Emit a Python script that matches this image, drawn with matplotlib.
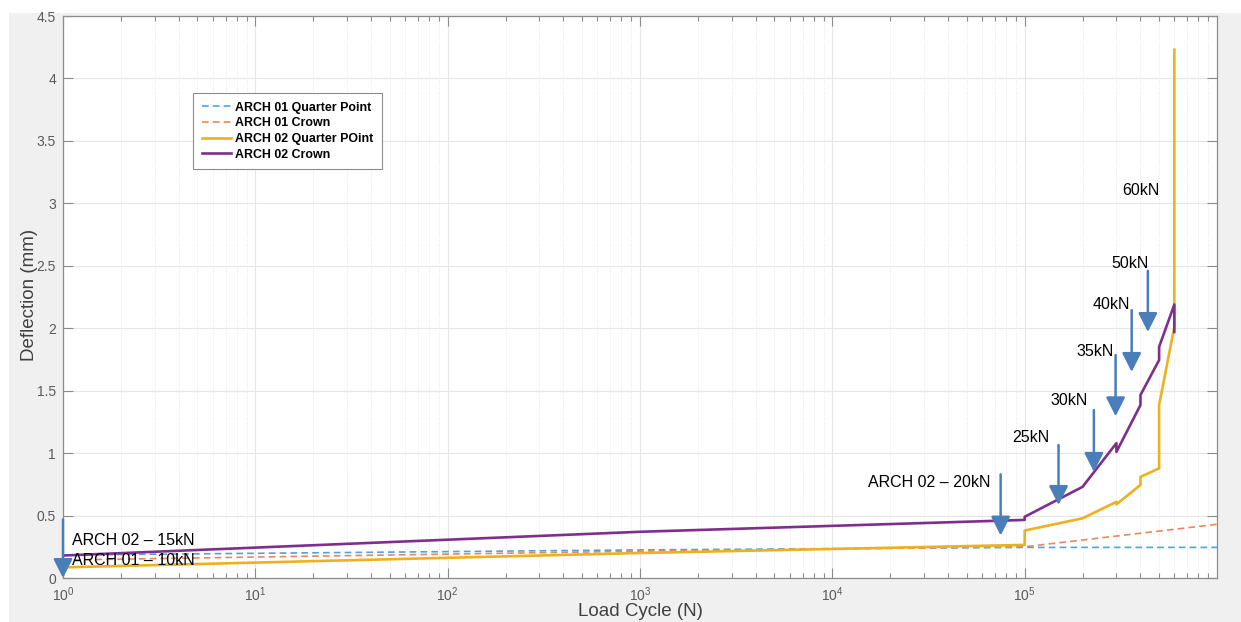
import matplotlib
matplotlib.use("Agg")
import matplotlib.pyplot as plt
from matplotlib.patches import Rectangle
from matplotlib.ticker import FixedLocator, LogLocator, NullFormatter, LogFormatterSciNotation

plt.rcParams['font.family'] = ['Liberation Sans', 'DejaVu Sans']
plt.rcParams['mathtext.fontset'] = 'custom'
plt.rcParams['mathtext.rm'] = 'Liberation Sans'
plt.rcParams['mathtext.it'] = 'Liberation Sans'

# ---- measured deflection series ----
arch01_qp_cycles = [1, 1e3, 1e5, 1e6]
arch01_qp_defl = [0.184, 0.225, 0.245, 0.245]

arch01_crown_cycles = [1, 1e3, 1e5, 1e6]
arch01_crown_defl = [0.144, 0.215, 0.25, 0.43]

arch02_qp_cycles = [1, 1e3, 1e5, 1e5, 2e5, 3e5, 3e5, 4e5, 4e5, 5e5, 5e5, 6e5, 6e5]
arch02_qp_defl = [0.085, 0.2, 0.265, 0.38, 0.478, 0.61, 0.59, 0.745, 0.81, 0.878, 1.385, 2.01, 4.23]

arch02_crown_cycles = [1, 1e3, 1e5, 1e5, 2e5, 3e5, 3e5, 4e5, 4e5, 5e5, 5e5, 6e5, 6e5]
arch02_crown_defl = [0.18, 0.37, 0.465, 0.49, 0.73, 1.08, 1.01, 1.385, 1.465, 1.745, 1.85, 2.19, 1.97]

series_labels = ['ARCH 01 Quarter Point', 'ARCH 01 Crown', 'ARCH 02 Quarter POint', 'ARCH 02 Crown']

# ---- load-step markers: text, text position, arrow tail/tip ----
load_labels = ['ARCH 02 \u2013 15kN', 'ARCH 01 \u2013 10kN', 'ARCH 02 \u2013 20kN',
               '25kN', '30kN', '35kN', '40kN', '50kN', '60kN']
load_label_x = [1.12, 1.12, 3.18e4, 1.08e5, 1.70e5, 2.31e5, 2.82e5, 3.51e5, 4.04e5]
load_label_y = [0.30, 0.144, 0.766, 1.127, 1.42, 1.81, 2.186, 2.52, 3.10]

arrow_x = [1, 7.5e4, 1.5e5, 2.29e5, 2.97e5, 3.6e5, 4.37e5]
arrow_tail = [0.47, 0.83, 1.065, 1.345, 1.785, 2.145, 2.46]
arrow_tip = [0.0, 0.34, 0.585, 0.85, 1.295, 1.65, 1.97]

x_major = [1e0, 1e1, 1e2, 1e3, 1e4, 1e5]
y_major = [0, 0.5, 1, 1.5, 2, 2.5, 3, 3.5, 4, 4.5]

W, H = 1241, 622
fig = plt.figure(figsize=(W / 100, H / 100), dpi=100, facecolor='white')
fig.patches.append(Rectangle((9 / W, 0), 1 - 9 / W, (H - 13) / H,
                             transform=fig.transFigure, facecolor='#f0f0f0',
                             edgecolor='none', zorder=-10))

ax = fig.add_axes([63 / W, 1 - 578 / H, (1217 - 63) / W, (578 - 16) / H])
ax.set_facecolor('white')

c_blue = '#4DA5D8'
c_orange = '#E8875C'
c_yellow = '#EDB120'
c_purple = '#7E2F8E'
c_arrow = '#4A7EBB'

ax.plot(arch01_qp_cycles, arch01_qp_defl, '--', color=c_blue, lw=1.2, dashes=(4, 2.5),
        label=series_labels[0], zorder=3)
ax.plot(arch01_crown_cycles, arch01_crown_defl, '--', color=c_orange, lw=1.2, dashes=(4, 2.5),
        label=series_labels[1], zorder=3)
ax.plot(arch02_qp_cycles, arch02_qp_defl, '-', color=c_yellow, lw=1.9, label=series_labels[2], zorder=4)
ax.plot(arch02_crown_cycles, arch02_crown_defl, '-', color=c_purple, lw=1.9, label=series_labels[3], zorder=5)

ax.set_xscale('log')
ax.set_xlim(1, 1e6)
ax.set_ylim(0, 4.5)

ax.xaxis.set_major_locator(FixedLocator(x_major))
ax.xaxis.set_major_formatter(LogFormatterSciNotation())
ax.xaxis.set_minor_locator(LogLocator(base=10, subs=range(2, 10), numticks=20))
ax.xaxis.set_minor_formatter(NullFormatter())
ax.yaxis.set_major_locator(FixedLocator(y_major))
ax.set_yticklabels([f'{v:g}' for v in y_major])

ax.grid(True, which='major', color='#e6e6e6', lw=0.8, zorder=0)
ax.grid(True, which='minor', axis='x', color='#e6e6e6', lw=0.7, ls=':', zorder=0)
ax.set_axisbelow(True)

for s in ax.spines.values():
    s.set_color('#8c8c8c')
    s.set_linewidth(0.9)
ax.tick_params(which='both', direction='in', top=True, right=True, colors='#8c8c8c',
               labelcolor='#5a5a5a', labelsize=10)
ax.tick_params(which='major', length=7, width=0.8, pad=5)
ax.tick_params(which='minor', length=3.5, width=0.8)

ax.set_xlabel('Load Cycle (N)', fontsize=13.5, color='#404040')
ax.xaxis.set_label_coords(0.5, (578 - 611.7) / 562)
ax.xaxis.label.set_va('center')
ax.set_ylabel('Deflection (mm)', fontsize=13.5, color='#404040')
ax.yaxis.set_label_coords((29 - 63) / 1154, (578 - 295) / 562)
ax.yaxis.label.set_va('center')

leg = ax.legend(loc='upper left', bbox_to_anchor=((193 - 63) / 1154, (578 - 93) / 562),
                borderaxespad=0, fancybox=False, framealpha=1, edgecolor='#8c8c8c',
                prop={'weight': 'bold', 'size': 8.9}, handlelength=2.4,
                handletextpad=0.3, labelspacing=0.3, borderpad=0.7)
leg.get_frame().set_linewidth(0.8)

for xt, tail, tip in zip(arrow_x, arrow_tail, arrow_tip):
    ax.annotate('', xy=(xt, tip), xytext=(xt, tail),
                arrowprops=dict(arrowstyle='-|>,head_length=1.15,head_width=0.58',
                                mutation_scale=10, color=c_arrow, lw=1.8,
                                shrinkA=0, shrinkB=0),
                annotation_clip=False, zorder=8)

for i, (txt, tx, ty) in enumerate(zip(load_labels, load_label_x, load_label_y)):
    ha = 'left' if i < 2 else 'center'
    ax.text(tx, ty, txt, ha=ha, va='center', fontsize=11.5, color='black', zorder=9)

fig.savefig('out.png', dpi=100, facecolor=fig.get_facecolor())
